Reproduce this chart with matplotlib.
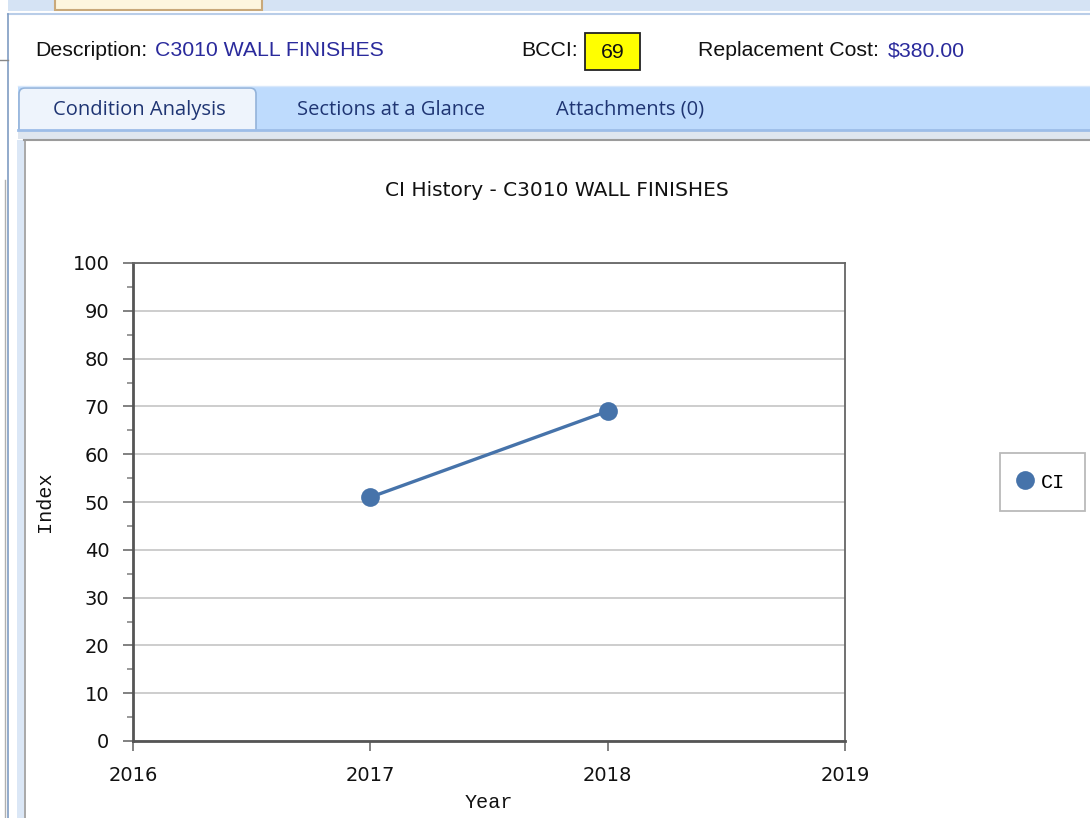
import matplotlib
matplotlib.use("Agg")
import matplotlib.pyplot as plt
from matplotlib.patches import Rectangle, FancyBboxPatch

W, H = 1090, 818

years = [2017, 2018]
ci_values = [51, 69]
x_ticks = [2016, 2017, 2018, 2019]
y_ticks = list(range(0, 101, 10))

description = "C3010 WALL FINISHES"
bcci = 69
replacement_cost = "$380.00"
tabs = ["Condition Analysis", "Sections at a Glance", "Attachments (0)"]

NAVY = "#2a2a9c"
TAB_TEXT = "#1f3573"
LINE_BLUE = "#4673aa"


def fx(px):
    return px / W


def fy(py):
    return 1 - py / H


fig = plt.figure(figsize=(W / 100, H / 100), dpi=100)
fig.patch.set_facecolor("white")

# window chrome drawn in pixel coordinates
bg = fig.add_axes([0, 0, 1, 1])
bg.set_xlim(0, W)
bg.set_ylim(H, 0)
bg.axis("off")

# top strip with a partially visible input box
bg.add_patch(Rectangle((8, 0), W - 8, 11, facecolor="#d5e3f4", edgecolor="none"))
bg.add_patch(Rectangle((55, -5), 207, 15, facecolor="#fdf6de", edgecolor="#c9a97a", lw=1.5))
bg.plot([8, W], [14, 14], color="#b9cde8", lw=1.5)

# left border strips
bg.plot([5, 5], [180, H], color="#b0b0b0", lw=1)
bg.plot([8, 8], [14, H], color="#7f9cc2", lw=1.2)
bg.add_patch(Rectangle((17, 140), 7, H - 140, facecolor="#dbe7f6", edgecolor="none"))
bg.plot([25, 25], [140, H], color="#9a9a9a", lw=1.2)
bg.plot([0, 8], [60, 60], color="#888888", lw=1)

# header fields
hdr_y = 51
hdr = dict(fontsize=15.3, family="Liberation Sans", va="center")
bg.text(35, hdr_y, "Description:", color="#111111", **hdr)
bg.text(155, hdr_y, description, color=NAVY, **hdr)
bg.text(521, hdr_y, "BCCI:", color="#111111", **hdr)
bg.add_patch(Rectangle((585, 33), 55, 37, facecolor="#ffff00", edgecolor="#222222", lw=1.3))
bg.text(612.5, hdr_y + 1, str(bcci), color="#111111", ha="center", **hdr)
bg.text(698, hdr_y, "Replacement Cost:", color="#111111", **hdr)
bg.text(888, hdr_y, replacement_cost, color=NAVY, **hdr)

# tab strip
bg.add_patch(Rectangle((18, 86), W - 18, 45, facecolor="#bedbfd", edgecolor="none"))
bg.plot([18, W], [86, 86], color="#d8e8fb", lw=1)
bg.plot([18, W], [130, 130], color="#9dbde8", lw=2)
bg.add_patch(FancyBboxPatch((19, 88), 237, 50, boxstyle="round,pad=0,rounding_size=6",
                            facecolor="#eef4fc", edgecolor="#93b3da", lw=1.2))
bg.add_patch(Rectangle((18, 131), W - 18, 8, facecolor="#dfe6ef", edgecolor="none"))
bg.plot([24, W], [139.5, 139.5], color="#9b9b9b", lw=1.5)
tab_x = [139, 391, 630]
for name, cx in zip(tabs, tab_x):
    bg.text(cx, 110, name, color=TAB_TEXT, fontsize=14.5, family="Open Sans",
            ha="center", va="center")

# chart title
bg.text(557, 191, "CI History - " + description, fontsize=14.5, family="DejaVu Sans",
        color="#111111", ha="center", va="center")

# chart area
ax = fig.add_axes([fx(133), fy(741), fx(845) - fx(133), (741 - 263) / H])
ax.set_facecolor("white")
ax.plot(years, ci_values, color=LINE_BLUE, lw=2.4, marker="o", markersize=13.5,
        markeredgewidth=0, label="CI", zorder=3, solid_capstyle="round")
ax.set_xlim(x_ticks[0], x_ticks[-1])
ax.set_ylim(y_ticks[0], y_ticks[-1])
ax.set_xticks(x_ticks)
ax.set_xticklabels([str(t) for t in x_ticks])
ax.set_yticks(y_ticks)
ax.set_yticks(range(5, 100, 10), minor=True)
ax.grid(axis="y", which="major", color="#c9c9c9", lw=1.3)
ax.set_axisbelow(True)
for side in ["left", "bottom"]:
    ax.spines[side].set_color("#555555")
    ax.spines[side].set_linewidth(2)
for side in ["top", "right"]:
    ax.spines[side].set_color("#666666")
    ax.spines[side].set_linewidth(1.3)
ax.tick_params(axis="both", which="major", length=7, width=1.3, color="#777777",
               labelsize=14, labelcolor="#111111")
ax.tick_params(axis="y", which="minor", length=4, width=1.2, color="#888888")
ax.tick_params(axis="x", pad=11)
ax.tick_params(axis="y", pad=10)
for lbl in ax.get_xticklabels() + ax.get_yticklabels():
    lbl.set_family("DejaVu Sans")
ax.set_xlabel("Year", fontsize=14.5, family="Liberation Mono", color="#111111", labelpad=6)
ax.set_ylabel("Index", fontsize=14.5, family="Liberation Mono", color="#111111", labelpad=13)

leg = ax.legend(loc="center left", bbox_to_anchor=(fx(1000), fy(482)),
                bbox_transform=fig.transFigure, frameon=True, fancybox=False,
                prop={"family": "Liberation Mono", "size": 14.5}, handlelength=0.6,
                handletextpad=0.5, borderpad=0.95, borderaxespad=0)
leg.get_frame().set_edgecolor("#a8a8a8")
leg.get_frame().set_linewidth(1.3)
for h in leg.legend_handles:
    h.set_linestyle("none")
    h.set_markersize(13.5)

fig.savefig("out.png", dpi=100)
